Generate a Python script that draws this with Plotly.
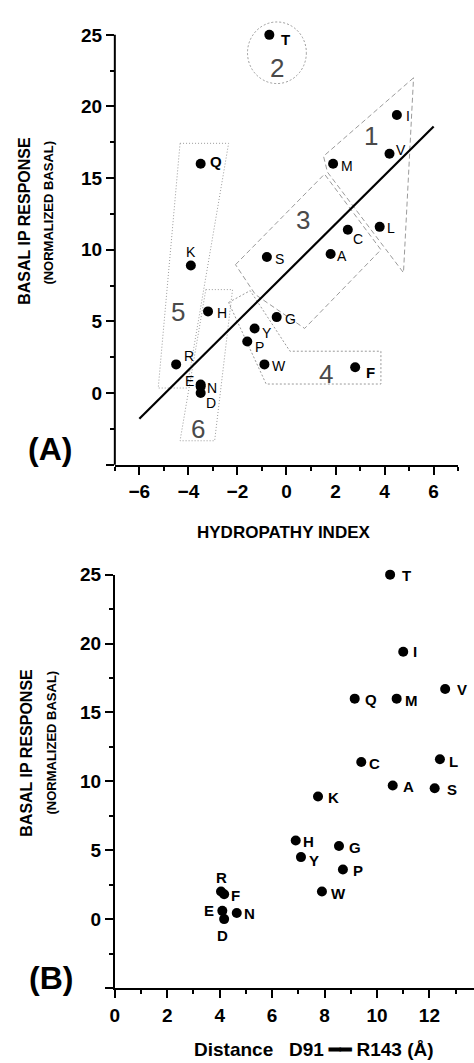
import plotly.graph_objects as go

# ---------------- data ----------------
residues = ["I", "V", "L", "F", "C", "M", "A", "G", "T", "S",
            "W", "Y", "P", "H", "E", "Q", "D", "N", "K", "R"]
hydropathy = [4.5, 4.2, 3.8, 2.8, 2.5, 1.9, 1.8, -0.4, -0.7, -0.8,
              -0.9, -1.3, -1.6, -3.2, -3.5, -3.5, -3.5, -3.5, -3.9, -4.5]
basal_ip = [19.4, 16.7, 11.6, 1.8, 11.4, 16.0, 9.7, 5.3, 25.0, 9.5,
            2.0, 4.5, 3.6, 5.7, 0.6, 16.0, 0.0, 0.45, 8.9, 2.0]
distance = [11.0, 12.6, 12.4, 4.17, 9.4, 10.75, 10.6, 8.55, 10.5, 12.2,
            7.9, 7.1, 8.7, 6.9, 4.1, 9.15, 4.17, 4.65, 7.75, 4.05]

# regression line (panel A)
fit_x = [-6.0, 6.0]
fit_y = [-1.8, 18.6]

# group outlines (panel A), data units
group1_x = [5.18, 1.51, 1.67, 4.77, 5.18]
group1_y = [22.0, 16.53, 15.42, 8.40, 22.0]
group3_x = [-2.08, 1.55, 3.85, 0.74, -1.27, -2.08]
group3_y = [8.96, 15.28, 10.0, 4.51, 6.875, 8.96]
group4_x = [-2.36, -1.48, 0.14, 3.85, 3.85, -0.83, -2.36]
group4_y = [6.32, 7.15, 2.92, 2.92, 0.63, 0.63, 6.32]
group5_x = [-4.34, -2.36, -4.06, -5.23, -4.34]
group5_y = [17.43, 17.43, 0.35, 0.35, 17.43]
group6_x = [-3.29, -2.20, -2.93, -4.34, -3.29]
group6_y = [7.22, 7.22, -3.33, -3.33, 7.22]
group2_center = (-0.39, 23.75)
group2_radii = (1.2, 2.15)

group_names = ["1", "2", "3", "4", "5", "6"]
group_label_x = [3.44, -0.39, 0.69, 1.63, -4.42, -3.61]
group_label_y = [17.96, 22.7, 12.06, 1.3, 5.69, -2.5]

xA_ticks = [-6, -4, -2, 0, 2, 4, 6]
xB_ticks = [0, 2, 4, 6, 8, 10, 12]
y_ticks = [-5, 0, 5, 10, 15, 20, 25]
y_ticktext = ["", "0", "5", "10", "15", "20", "25"]

# ---------------- styling / layout ----------------
W, H = 474, 1063
FONT = "Liberation Sans"

# label offsets in pixels (dx right, dy up)
offA = {"T": (16, -5), "I": (11, -1), "V": (12, 4), "M": (14, -2), "L": (11, -1),
        "C": (10, -9), "A": (11, -2), "S": (13, -2), "Q": (15, 2), "K": (0, 14),
        "H": (14, -2), "G": (14, -2), "Y": (12, -4), "P": (12, -6), "W": (15, -2),
        "R": (13, 8), "F": (15, -5), "E": (-11, 3), "N": (11, -1), "D": (10, -10)}
boldA = {"T", "Q", "F"}
offB = {"T": (16, -1), "I": (12, 0), "V": (17, 0), "Q": (16, -1), "M": (15, -2),
        "C": (13, -1), "L": (14, -2), "A": (16, -1), "S": (17, -1), "K": (15, -1),
        "H": (13, -1), "Y": (13, -3), "G": (16, -1), "P": (15, -1), "W": (17, -2),
        "R": (0, 14), "F": (11, -1), "E": (-13, 0), "N": (13, -1), "D": (-2, -16)}

def px2paper_y(p):
    return 1 - p / H

# Panel A domain
xA_dom = [111 / W, 458 / W]
yA_dom = [px2paper_y(459), px2paper_y(3.4)]
yA_range = [-5, 26.5]
# Panel B domain
xB_dom = [111 / W, 1.0]
yB_dom = [px2paper_y(987.3), px2paper_y(570)]

fig = go.Figure()

grey = "#9a9a9a"
for gx, gy, dash in [(group1_x, group1_y, "5px,3px"), (group3_x, group3_y, "5px,3px"),
                     (group4_x, group4_y, "2px,2px"), (group5_x, group5_y, "1px,2px"),
                     (group6_x, group6_y, "1px,2px")]:
    fig.add_trace(go.Scatter(x=gx, y=gy, mode="lines", xaxis="x", yaxis="y",
                             line=dict(color=grey, width=1, dash=dash),
                             hoverinfo="skip", showlegend=False))

fig.add_trace(go.Scatter(x=fit_x, y=fit_y, mode="lines", xaxis="x", yaxis="y",
                         line=dict(color="black", width=2.2), showlegend=False))

fig.add_trace(go.Scatter(x=hydropathy, y=basal_ip, mode="markers", xaxis="x", yaxis="y",
                         marker=dict(color="black", size=10), cliponaxis=False,
                         showlegend=False))
fig.add_trace(go.Scatter(x=distance, y=basal_ip, mode="markers", xaxis="x2", yaxis="y2",
                         marker=dict(color="black", size=10), cliponaxis=False,
                         showlegend=False))

cx, cy = group2_center
rx, ry = group2_radii
fig.add_shape(type="circle", xref="x", yref="y", x0=cx - rx, x1=cx + rx,
              y0=cy - ry, y1=cy + ry, line=dict(color=grey, width=1, dash="2px,2px"))

# manual y axis line for panel A (stops at 25)
yA_top_val = 25
yA_line_top = yA_dom[0] + (yA_top_val - yA_range[0]) / (yA_range[1] - yA_range[0]) * (yA_dom[1] - yA_dom[0])
fig.add_shape(type="line", xref="paper", yref="paper", x0=xA_dom[0], x1=xA_dom[0],
              y0=yA_dom[0], y1=yA_line_top, line=dict(color="black", width=2))

ann = []
for r, xv, yv in zip(residues, hydropathy, basal_ip):
    dx, dy = offA[r]
    b = r in boldA
    ann.append(dict(x=xv, y=yv, xref="x", yref="y", text=("<b>%s</b>" % r) if b else r,
                    showarrow=False, xshift=dx, yshift=dy,
                    font=dict(family=FONT, size=15 if b else 14, color="black")))
for r, xv, yv in zip(residues, distance, basal_ip):
    dx, dy = offB[r]
    ann.append(dict(x=xv, y=yv, xref="x2", yref="y2", text="<b>%s</b>" % r,
                    showarrow=False, xshift=dx, yshift=dy,
                    font=dict(family=FONT, size=15, color="black")))
for g, gx, gy in zip(group_names, group_label_x, group_label_y):
    ann.append(dict(x=gx, y=gy, xref="x", yref="y", text=g, showarrow=False,
                    font=dict(family=FONT, size=26, color="#4a4a4a")))

def pann(x, y, text, size, angle=0, bold=True):
    return dict(x=x / W, y=px2paper_y(y), xref="paper", yref="paper",
                text=("<b>%s</b>" % text) if bold else text, showarrow=False,
                textangle=angle, font=dict(family=FONT, size=size, color="black"),
                xanchor="center", yanchor="middle")

ann += [
    pann(20, 213, "BASAL IP RESPONSE", 16, -90),
    pann(44, 205, "(NORMALIZED BASAL)", 13, -90),
    pann(282, 527, "HYDROPATHY INDEX", 17),
    pann(45, 443, "(A)", 32),
    pann(22, 750, "BASAL IP RESPONSE", 16, -90),
    pann(47, 740, "(NORMALIZED BASAL)", 13, -90),
    pann(312, 1049, "Distance&nbsp;&nbsp;&nbsp;D91 ━━ R143 (Å)", 19),
    pann(46, 977, "(B)", 32),
]

axis_common = dict(showgrid=False, zeroline=False, ticks="outside", ticklen=8,
                   tickwidth=2, tickcolor="black", linecolor="black", linewidth=2,
                   tickfont=dict(family=FONT, size=19, color="black", weight="bold"))

def minor(dt):
    return dict(dtick=dt, tick0=0, ticks="outside", ticklen=4, tickwidth=1.5,
                tickcolor="black")

fig.update_layout(
    width=W, height=H, margin=dict(l=0, r=0, t=0, b=0),
    paper_bgcolor="white", plot_bgcolor="white", showlegend=False,
    xaxis=dict(domain=xA_dom, range=[-7, 7], anchor="y", tickvals=xA_ticks,
               showline=True, minor=minor(1), ticklabelstandoff=1, **axis_common),
    yaxis=dict(domain=yA_dom, range=yA_range, anchor="x", tickvals=y_ticks,
               ticktext=y_ticktext, showline=False, minor=minor(2.5), **axis_common),
    xaxis2=dict(domain=xB_dom, range=[0, 13.7], anchor="y2", tickvals=xB_ticks,
                showline=True, minor=minor(1), ticklabelstandoff=1, **axis_common),
    yaxis2=dict(domain=yB_dom, range=[-5, 25], anchor="x2", tickvals=y_ticks,
                ticktext=y_ticktext, showline=True, minor=minor(2.5), **axis_common),
    annotations=ann,
)

fig.write_html("out.html", config={"displayModeBar": False},
               post_script="document.body.style.margin='0';document.body.style.padding='0';")
